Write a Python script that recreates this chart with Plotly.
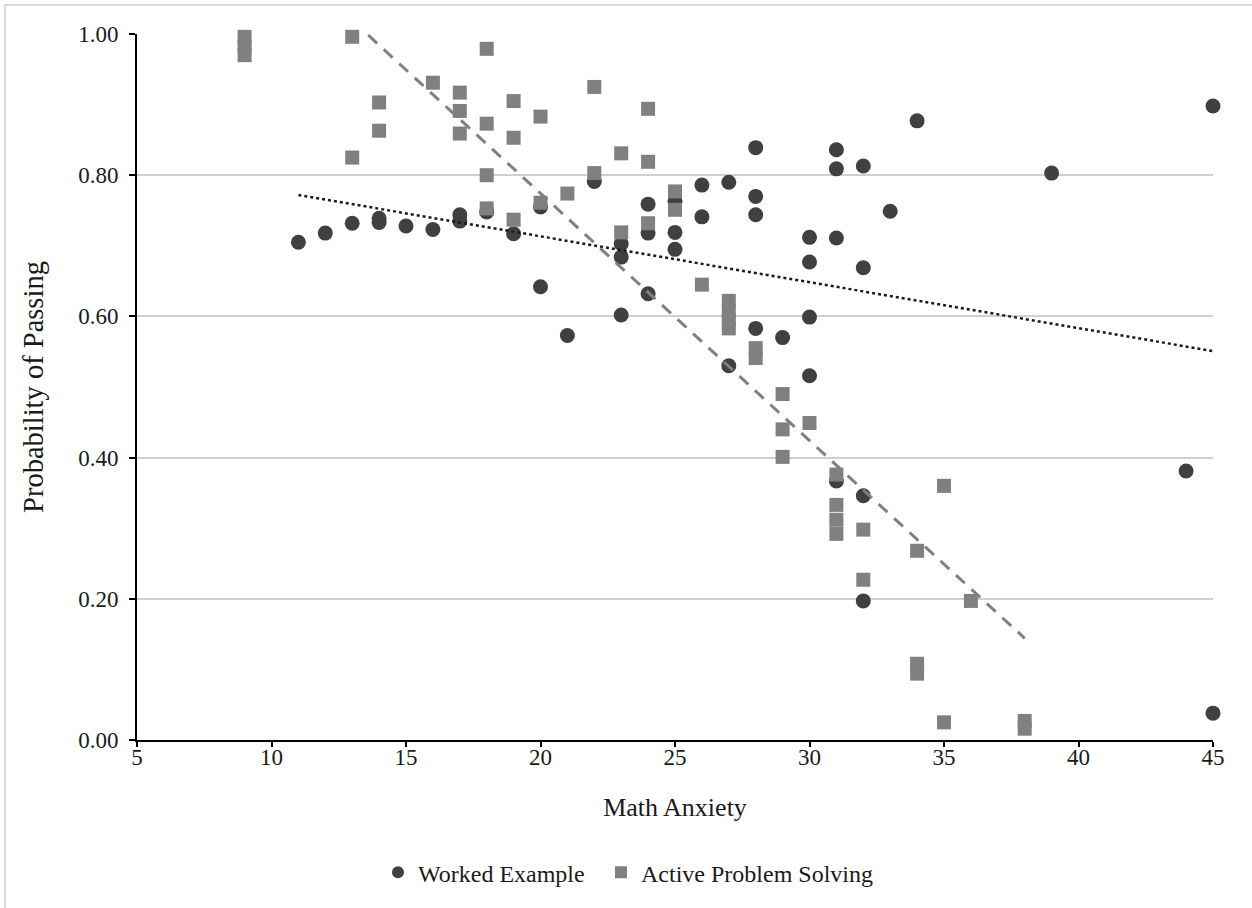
import numpy as np
import plotly.graph_objects as go

# Worked Example group: math anxiety score and predicted probability of passing
worked_x = [11, 12, 13, 14, 14, 15, 16, 17, 17, 18, 19, 20, 20, 21, 22,
            23, 23, 23, 24, 24, 24, 25, 25, 25, 26, 26, 27, 27,
            28, 28, 28, 28, 29, 30, 30, 30, 30, 31, 31, 31, 31,
            32, 32, 32, 32, 33, 34, 39, 44, 45, 45]
worked_y = [0.705, 0.718, 0.732, 0.739, 0.733, 0.728, 0.723, 0.744, 0.735, 0.748,
            0.717, 0.755, 0.642, 0.573, 0.791,
            0.703, 0.684, 0.602, 0.759, 0.718, 0.632, 0.763, 0.719, 0.695,
            0.786, 0.741, 0.790, 0.530,
            0.839, 0.770, 0.744, 0.583, 0.570, 0.712, 0.677, 0.599, 0.516,
            0.836, 0.809, 0.711, 0.367,
            0.813, 0.669, 0.346, 0.197, 0.749, 0.877, 0.803, 0.381, 0.898, 0.038]

# Active Problem Solving group
active_x = [9, 9, 9, 13, 13, 14, 14, 16, 17, 17, 17, 18, 18, 18, 18,
            19, 19, 19, 20, 20, 21, 22, 22, 23, 23, 24, 24, 24, 25, 25,
            26, 27, 27, 27, 27, 28, 28, 29, 29, 29, 30,
            31, 31, 31, 31, 32, 32, 34, 34, 34, 35, 35, 36, 38, 38]
active_y = [0.996, 0.983, 0.970, 0.996, 0.825, 0.903, 0.863, 0.931, 0.917, 0.891,
            0.859, 0.979, 0.873, 0.800, 0.753,
            0.905, 0.853, 0.737, 0.883, 0.761, 0.774, 0.925, 0.803, 0.831, 0.719,
            0.894, 0.819, 0.732, 0.777, 0.751,
            0.645, 0.622, 0.607, 0.595, 0.583, 0.555, 0.541, 0.490, 0.440, 0.401, 0.449,
            0.376, 0.333, 0.312, 0.292, 0.298, 0.227, 0.268, 0.108, 0.094, 0.360, 0.025,
            0.197, 0.027, 0.016]

x_ticks = [5, 10, 15, 20, 25, 30, 35, 40, 45]
y_ticks = [0.0, 0.2, 0.4, 0.6, 0.8, 1.0]

FONT = "Liberation Serif, Times New Roman, serif"
TEXT = "#1a1a1a"
DARK = "#404040"
MID = "#808080"


def linear_fit(xs, ys):
    slope, intercept = np.polyfit(xs, ys, 1)
    xr = np.array([min(xs), max(xs)], dtype=float)
    return xr, slope * xr + intercept


fig = go.Figure()

fig.add_trace(go.Scatter(
    x=worked_x, y=worked_y, mode="markers", name="Worked Example",
    marker=dict(symbol="circle", size=15, color=DARK, line=dict(width=0)),
    cliponaxis=False, legend="legend",
))
fig.add_trace(go.Scatter(
    x=active_x, y=active_y, mode="markers", name="Active Problem Solving",
    marker=dict(symbol="square", size=14, color=MID, line=dict(width=0)),
    cliponaxis=False, legend="legend2",
))

# Linear trend lines for each group
wx, wy = linear_fit(worked_x, worked_y)
fig.add_trace(go.Scatter(
    x=wx, y=wy, mode="lines", showlegend=False, hoverinfo="skip",
    line=dict(color="#1a1a1a", width=2.5, dash="dot"),
))
ax_, ay_ = linear_fit(active_x, active_y)
fig.add_trace(go.Scatter(
    x=ax_, y=ay_, mode="lines", showlegend=False, hoverinfo="skip",
    line=dict(color=MID, width=3, dash="12px,9px"),
))

PLOT_W = 1076
legend_style = dict(
    orientation="h", yanchor="middle", y=-0.188, xanchor="left",
    font=dict(family=FONT, size=24, color=TEXT),
    itemsizing="constant", bgcolor="rgba(0,0,0,0)",
)

fig.update_layout(
    width=1252, height=908,
    margin=dict(l=137, r=39, t=34, b=168),
    paper_bgcolor="white", plot_bgcolor="white",
    font=dict(family=FONT, size=23, color=TEXT),
    showlegend=True,
    legend=dict(legend_style, x=(378 - 137) / PLOT_W),
    legend2=dict(legend_style, x=(601 - 137) / PLOT_W),
    xaxis=dict(
        range=[5, 45], tickvals=x_ticks, showgrid=False, zeroline=False,
        showline=True, linecolor="black", linewidth=2,
        ticks="outside", ticklen=5, tickwidth=1.5, tickcolor="black",
        ticklabelstandoff=-10,
        tickfont=dict(family=FONT, size=23, color=TEXT),
        title=dict(text="Math Anxiety", font=dict(family=FONT, size=26, color=TEXT),
                   standoff=29),
    ),
    yaxis=dict(
        range=[0, 1], tickvals=y_ticks, tickformat=".2f",
        showgrid=True, gridcolor="#d0d0d0", gridwidth=2, zeroline=False,
        showline=True, linecolor="black", linewidth=2,
        ticks="outside", ticklen=6, tickwidth=1.5, tickcolor="black",
        ticklabelstandoff=6,
        tickfont=dict(family=FONT, size=23, color=TEXT),
        title=dict(text="Probability of Passing", font=dict(family=FONT, size=28.5, color=TEXT),
                   standoff=26),
    ),
    shapes=[dict(
        type="rect", xref="paper", yref="paper",
        x0=-132 / PLOT_W, x1=1.1, y0=-0.3, y1=1 + 29 / 706,
        line=dict(color="#d9d9d9", width=2), fillcolor="rgba(0,0,0,0)", layer="below",
    )],
)

fig.write_html("out.html")
